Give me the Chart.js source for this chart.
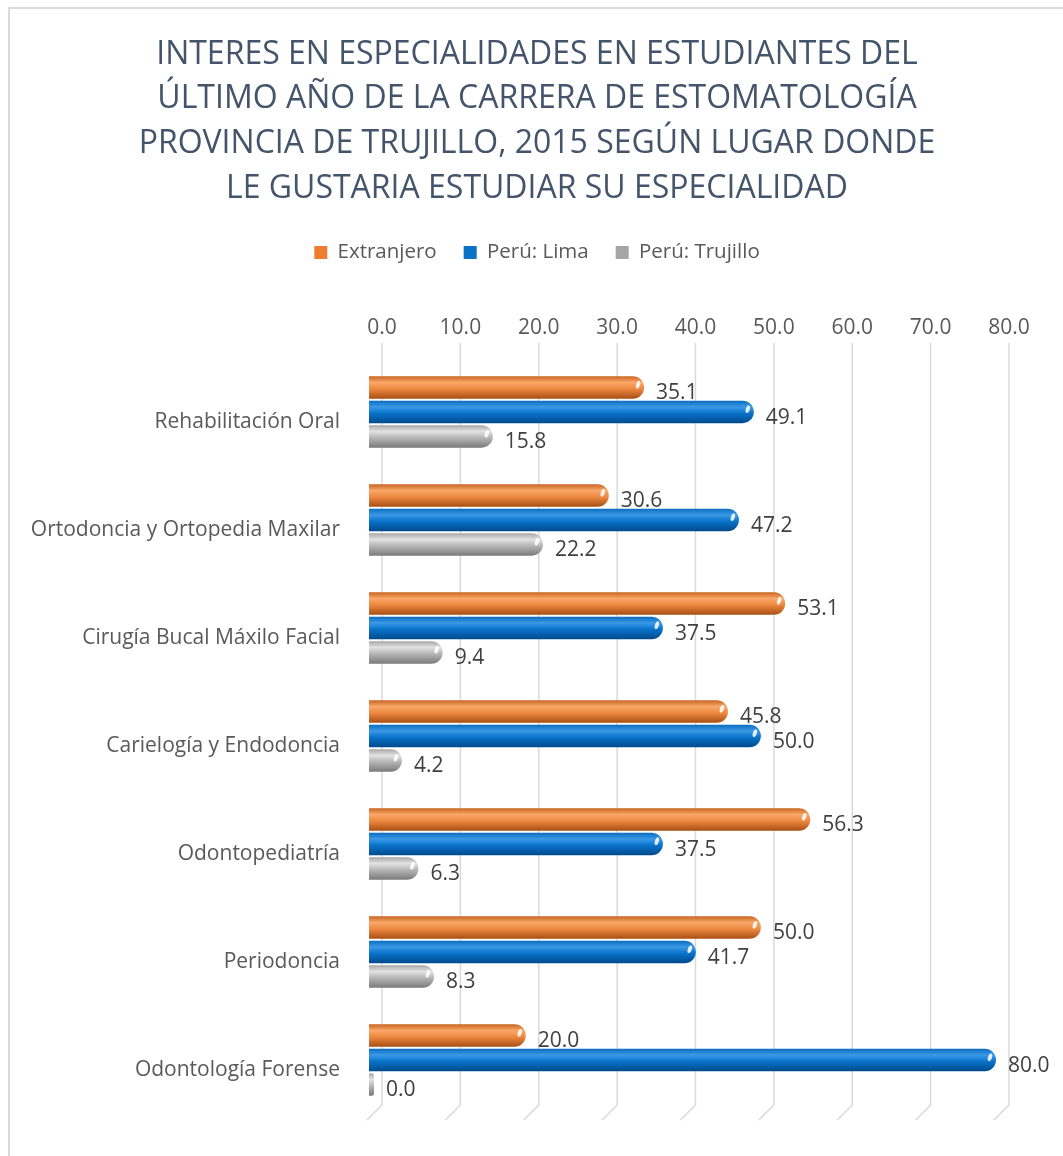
<!DOCTYPE html>
<html lang="es">
<head>
  <meta charset="UTF-8" />
  <title>Interes en especialidades</title>
  <script src="https://cdn.jsdelivr.net/npm/chart.js"></script>
  <style>
    body { margin: 0; background: #fff; }
    #marco { position: absolute; left: 8px; top: 7px; width: 1100px; height: 1200px;
             border-left: 2px solid #d9d9d9; border-top: 2px solid #d9d9d9; }
    #grafico { position: absolute; left: 0; top: 0; }
  </style>
</head>
<body>
  <div id="marco"></div>
  <canvas id="grafico" width="1063" height="1156"></canvas>

  <script>
    // datos
    const categorias = [
      'Rehabilitación Oral',
      'Ortodoncia y Ortopedia Maxilar',
      'Cirugía Bucal Máxilo Facial',
      'Carielogía y Endodoncia',
      'Odontopediatría',
      'Periodoncia',
      'Odontología Forense'
    ];
    const extranjero = [35.1, 30.6, 53.1, 45.8, 56.3, 50.0, 20.0];
    const peruLima = [49.1, 47.2, 37.5, 50.0, 37.5, 41.7, 80.0];
    const peruTrujillo = [15.8, 22.2, 9.4, 4.2, 6.3, 8.3, 0.0];
    const ticksX = [0, 10, 20, 30, 40, 50, 60, 70, 80];

    const titulo = [
      'INTERES EN ESPECIALIDADES EN ESTUDIANTES DEL',
      'ÚLTIMO AÑO DE LA CARRERA DE ESTOMATOLOGÍA',
      'PROVINCIA DE TRUJILLO, 2015 SEGÚN LUGAR DONDE',
      'LE GUSTARIA ESTUDIAR SU ESPECIALIDAD'
    ];

    const FUENTE = "'Open Sans', sans-serif";
    const PROF_X = 13; // desplazamiento de la pared del fondo (efecto 3D)

    // tonos del cilindro: borde sup, brillo, medio, borde inf
    const tonos = [
      ['#c9631f', '#f9a869', '#ef8a42', '#a94f14'],
      ['#0a6cc0', '#3b9ae6', '#0a74cc', '#004a8c'],
      ['#a6a6a6', '#e2e2e2', '#b8b8b8', '#7a7a7a']
    ];

    // rejilla con pared al fondo y piso inclinado
    const rejilla = {
      id: 'rejilla',
      beforeDatasetsDraw(chart) {
        const ctx = chart.ctx;
        const xs = chart.scales.x;
        const { top, bottom } = chart.chartArea;
        ctx.save();
        ctx.strokeStyle = '#d9d9d9';
        ctx.lineWidth = 1.5;
        ticksX.forEach(v => {
          const px = xs.getPixelForValue(v) + PROF_X;
          ctx.beginPath();
          ctx.moveTo(px, top - 15);
          ctx.lineTo(px, bottom - 9);
          ctx.lineTo(px - 15, bottom + 6);
          ctx.stroke();
        });
        ctx.restore();

        // degradado tipo cilindro por barra
        chart.data.datasets.forEach((ds, i) => {
          const meta = chart.getDatasetMeta(i);
          meta.data.forEach(el => {
            const h = el.height;
            const g = ctx.createLinearGradient(0, el.y - h / 2, 0, el.y + h / 2);
            g.addColorStop(0, tonos[i][0]);
            g.addColorStop(0.28, tonos[i][1]);
            g.addColorStop(0.55, tonos[i][2]);
            g.addColorStop(1, tonos[i][3]);
            el.options = Object.assign({}, el.options, { backgroundColor: g });
          });
        });
      },
      afterDatasetsDraw(chart) {
        const ctx = chart.ctx;
        ctx.save();
        chart.data.datasets.forEach((ds, i) => {
          const meta = chart.getDatasetMeta(i);
          meta.data.forEach((el, j) => {
            // brillo en el extremo
            if (ds.data[j] > 1) {
              ctx.fillStyle = 'rgba(255,255,255,0.85)';
              ctx.beginPath();
              ctx.ellipse(el.x - 6, el.y - el.height * 0.12, 2, 4, 0.3, 0, Math.PI * 2);
              ctx.fill();
            }
            // etiqueta de valor
            ctx.fillStyle = '#404040';
            ctx.font = '21px ' + FUENTE;
            ctx.textAlign = 'left';
            ctx.textBaseline = 'middle';
            ctx.fillText(ds.data[j].toFixed(1), el.x + 12, el.y + 6);
          });
        });
        ctx.restore();
      }
    };

    // espacio extra bajo la leyenda
    const margenLeyenda = {
      id: 'margenLeyenda',
      beforeInit(chart) {
        const fitOriginal = chart.legend.fit;
        chart.legend.fit = function () {
          fitOriginal.bind(chart.legend)();
          this.height += 34;
        };
      }
    };

    new Chart(document.getElementById('grafico'), {
      type: 'bar',
      data: {
        labels: categorias,
        datasets: [
          { label: 'Extranjero', data: extranjero, backgroundColor: '#ed7d31' },
          { label: 'Perú: Lima', data: peruLima, backgroundColor: '#0a72c6' },
          { label: 'Perú: Trujillo', data: peruTrujillo, backgroundColor: '#a5a5a5', minBarLength: 5 }
        ]
      },
      options: {
        indexAxis: 'y',
        responsive: false,
        animation: false,
        events: [],
        datasets: {
          bar: {
            categoryPercentage: 0.68,
            barPercentage: 0.92,
            borderRadius: 14,
            borderSkipped: 'start'
          }
        },
        layout: { padding: { left: 20, right: 9, top: 0, bottom: 42 } },
        plugins: {
          title: {
            display: true,
            text: titulo,
            color: '#44546a',
            font: { family: FUENTE, size: 32, weight: 'normal', lineHeight: 1.4 },
            padding: { top: 32, bottom: 4 }
          },
          legend: {
            display: true,
            labels: {
              color: '#595959',
              font: { family: FUENTE, size: 20.5 },
              boxWidth: 13,
              boxHeight: 13,
              padding: 27
            }
          },
          tooltip: { enabled: false }
        },
        scales: {
          x: {
            position: 'top',
            min: 0,
            max: 87.4,
            grid: { display: false },
            border: { display: false },
            ticks: {
              stepSize: 10,
              includeBounds: false,
              labelOffset: PROF_X,
              padding: 9,
              color: '#595959',
              font: { family: FUENTE, size: 21 },
              callback: v => v.toFixed(1)
            }
          },
          y: {
            grid: { display: false },
            border: { display: false },
            afterFit: s => { s.width = 349; },
            ticks: {
              padding: 21,
              labelOffset: 10,
              color: '#595959',
              font: { family: FUENTE, size: 21 }
            }
          }
        }
      },
      plugins: [rejilla, margenLeyenda]
    });
  </script>
</body>
</html>
